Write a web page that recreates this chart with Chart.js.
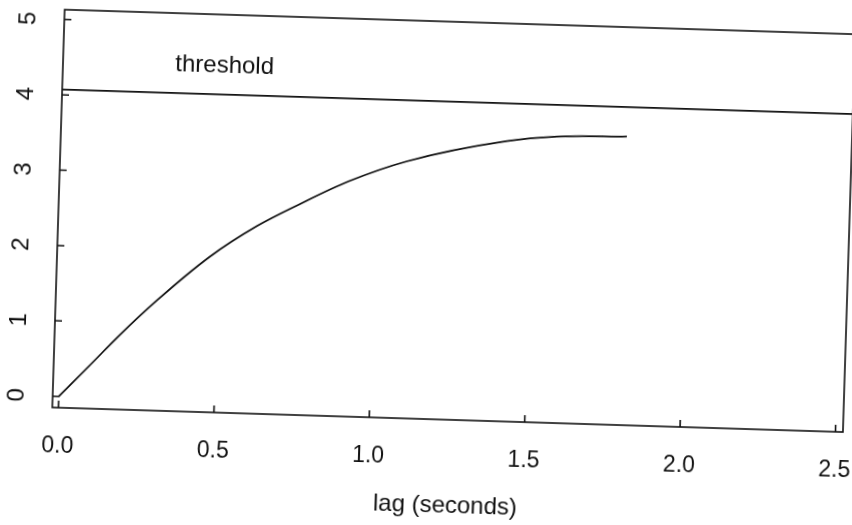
<!DOCTYPE html>
<html>
<head>
<meta charset="utf-8">
<script src="https://cdn.jsdelivr.net/npm/chart.js@4.4.1/dist/chart.umd.min.js"></script>
<style>
  html, body { margin: 0; padding: 0; background: #fff; overflow: hidden; }
  #wrap { width: 852px; height: 525px; overflow: hidden; }
  /* the scanned page sits slightly askew */
  #lagChart { transform: rotate(1.78deg); transform-origin: 426px 262px; background: #fff; }
</style>
</head>
<body>
<div id="wrap"><canvas id="lagChart" width="890" height="525"></canvas></div>
<script>
// curve
const lagValues = [0, 0.1, 0.19, 0.305, 0.47, 0.62, 0.756, 0.91, 1.095, 1.415, 1.575, 1.80];
const curveValues = [0, 0.44, 0.84, 1.31, 1.91, 2.34, 2.65, 2.97, 3.26, 3.57, 3.65, 3.68];

const xTicks = [0, 0.5, 1.0, 1.5, 2.0, 2.5];
const yTicks = [0, 1, 2, 3, 4, 5];

const thresholdValue = 4.07;
const thresholdLabel = "threshold";
const thresholdLabelAt = [0.5, 4.45];

const fontFamily = "'Liberation Sans', Arial, Helvetica, sans-serif";

const boxPlugin = {
  id: "rBox",
  afterDraw(chart) {
    const { ctx, chartArea: a } = chart;
    const xs = chart.scales.x;
    const ys = chart.scales.y;
    ctx.save();
    ctx.strokeStyle = "#111";
    ctx.lineWidth = 1.6;
    ctx.strokeRect(a.left, a.top, a.right - a.left, a.bottom - a.top);

    // inward ticks
    ctx.beginPath();
    xTicks.forEach((v) => {
      const px = xs.getPixelForValue(v);
      ctx.moveTo(px, a.bottom);
      ctx.lineTo(px, a.bottom - 7);
    });
    yTicks.forEach((v) => {
      const py = ys.getPixelForValue(v);
      ctx.moveTo(a.left, py);
      ctx.lineTo(a.left + 7, py);
    });
    ctx.stroke();

    // threshold line
    const ty = ys.getPixelForValue(thresholdValue);
    ctx.beginPath();
    ctx.moveTo(a.left, ty);
    ctx.lineTo(a.right, ty);
    ctx.stroke();

    ctx.fillStyle = "#111";
    ctx.font = "24px " + fontFamily;
    ctx.textAlign = "center";
    ctx.textBaseline = "middle";
    ctx.fillText(
      thresholdLabel,
      xs.getPixelForValue(thresholdLabelAt[0]),
      ys.getPixelForValue(thresholdLabelAt[1])
    );

    // y labels, parallel to the axis
    ctx.font = "24px " + fontFamily;
    yTicks.forEach((v) => {
      ctx.save();
      ctx.translate(21, ys.getPixelForValue(v));
      ctx.rotate(-Math.PI / 2);
      ctx.fillText(String(v), 0, 0);
      ctx.restore();
    });
    ctx.restore();
  },
};

const ctx = document.getElementById("lagChart").getContext("2d");

const config = {
  type: "line",
  data: {
    datasets: [
      {
        data: lagValues.map((x, i) => ({ x: x, y: curveValues[i] })),
        borderColor: "#111",
        borderWidth: 1.7,
        pointRadius: 0,
        cubicInterpolationMode: "monotone",
        fill: false,
      },
    ],
  },
  options: {
    responsive: false,
    animation: false,
    devicePixelRatio: 1,
    layout: { padding: { left: 0, right: 42, top: 21, bottom: 0 } },
    plugins: {
      legend: { display: false },
      tooltip: { enabled: false },
    },
    scales: {
      x: {
        type: "linear",
        min: -0.02,
        max: 2.524,
        afterBuildTicks: (scale) => {
          scale.ticks = xTicks.map((v) => ({ value: v }));
        },
        afterFit: (scale) => {
          scale.height = 106;
          scale.paddingLeft = 0;
          scale.paddingRight = 0;
        },
        ticks: {
          color: "#111",
          padding: 25,
          maxRotation: 0,
          font: { family: fontFamily, size: 23 },
          callback: (v) => Number(v).toFixed(1),
        },
        grid: { display: false, drawTicks: false },
        border: { display: false },
        title: {
          display: true,
          text: "lag (seconds)",
          color: "#111",
          font: { family: fontFamily, size: 24 },
          padding: { top: 0, bottom: 5 },
        },
      },
      y: {
        type: "linear",
        min: -0.15,
        max: 5.13,
        afterBuildTicks: (scale) => {
          scale.ticks = yTicks.map((v) => ({ value: v }));
        },
        afterFit: (scale) => {
          scale.width = 57;
          scale.paddingTop = 0;
          scale.paddingBottom = 0;
        },
        ticks: { display: false },
        grid: { display: false, drawTicks: false },
        border: { display: false },
      },
    },
  },
  plugins: [boxPlugin],
};

const lagChart = new Chart(ctx, config);
</script>
</body>
</html>
